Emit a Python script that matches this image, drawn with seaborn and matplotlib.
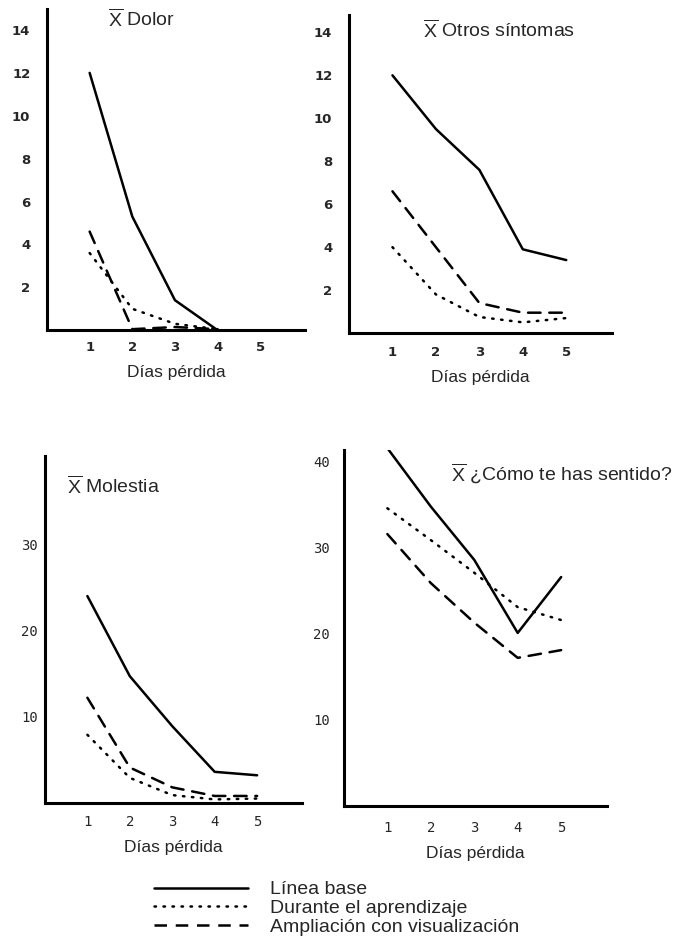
import numpy as np
import pandas as pd
import seaborn as sns
import matplotlib.pyplot as plt
from matplotlib.lines import Line2D

sns.set_style('white')
plt.rcParams['font.family'] = ['Liberation Sans', 'DejaVu Sans']
plt.rcParams['mathtext.fontset'] = 'custom'
plt.rcParams['mathtext.rm'] = 'Liberation Sans'

# datos
dias = [1, 2, 3, 4, 5]
fases = ['Línea base', 'Durante el aprendizaje', 'Ampliación con visualización']

dolor_base = [12.0, 5.3, 1.4, 0.0]
dolor_apr = [3.6, 1.0, 0.3, 0.05]
dolor_amp = [4.6, 0.05, 0.15, 0.05]

otros_base = [12.0, 9.5, 7.6, 3.9, 3.4]
otros_apr = [4.0, 1.8, 0.75, 0.5, 0.7]
otros_amp = [6.6, 4.0, 1.4, 0.95, 0.95]

molestia_base = [24.0, 14.7, 8.9, 3.6, 3.2]
molestia_apr = [7.9, 2.9, 0.9, 0.4, 0.5]
molestia_amp = [12.2, 4.1, 1.8, 0.8, 0.8]

sentido_base = [41.6, 34.8, 28.6, 20.1, 26.6]
sentido_apr = [34.6, 30.9, 27.1, 23.1, 21.6]
sentido_amp = [31.6, 25.9, 21.3, 17.2, 18.1]


def long_df(base, apr, amp):
    rows = []
    for fase, vals in zip(fases, [base, apr, amp]):
        for d, v in zip(dias[:len(vals)], vals):
            rows.append({'dia': d, 'valor': v, 'fase': fase})
    return pd.DataFrame(rows)


dashes = {fases[0]: '', fases[1]: (0.6, 3.0), fases[2]: (5, 3.5)}
xbar = r'$\overline{\mathrm{X}}$ '

fig = plt.figure(figsize=(6.81, 9.49), dpi=100)

paneles = [
    # (rect, data, ylim, yticks, titulo, pos titulo, fuente ticks, pad y, pad x)
    ([0.069, 0.652, 0.379, 0.339], long_df(dolor_base, dolor_apr, dolor_amp),
     15.0, [2, 4, 6, 8, 10, 12, 14], 'Dolor', (0.236, 0.966), 'bold', 9, 5),
    ([0.5125, 0.649, 0.386, 0.335], long_df(otros_base, otros_apr, otros_amp),
     14.8, [2, 4, 6, 8, 10, 12, 14], 'Otros síntomas', (0.281, 0.953), 'bold', 9, 6),
    ([0.066, 0.154, 0.377, 0.365], long_df(molestia_base, molestia_apr, molestia_amp),
     40.2, [10, 20, 30], 'Molestia', (0.086, 0.913), 'normal', 2, 6),
    ([0.505, 0.151, 0.386, 0.375], long_df(sentido_base, sentido_apr, sentido_amp),
     41.4, [10, 20, 30, 40], '¿Cómo te has sentido?', (0.407, 0.933), 'normal', 7, 8),
]

for rect, df, ytop, yticks, titulo, tpos, peso, ypad, xpad in paneles:
    ax = fig.add_axes(rect)
    sns.lineplot(data=df, x='dia', y='valor', style='fase', style_order=fases,
                 dashes=dashes, color='black', linewidth=1.8, legend=False, ax=ax)
    for ln in ax.lines:
        ln.set_dash_capstyle('round')
    ax.set_xlim(0, 6.05)
    ax.set_ylim(0, ytop)
    ax.set_xticks(dias)
    ax.set_yticks(yticks)
    fam = ['DejaVu Sans'] if peso == 'bold' else ['DejaVu Sans Mono']
    for lab in ax.get_xticklabels() + ax.get_yticklabels():
        lab.set_fontfamily(fam)
        lab.set_fontweight(peso)
        lab.set_fontsize(9.5 if peso == 'bold' else 10)
    ax.tick_params(axis='both', length=3, width=1.2, color='black')
    ax.tick_params(axis='x', pad=xpad)
    ax.tick_params(axis='y', pad=ypad)
    sns.despine(ax=ax)
    for s in ['left', 'bottom']:
        ax.spines[s].set_linewidth(2.2)
        ax.spines[s].set_color('black')
    ax.set_xlabel('Días pérdida', fontsize=12.5, labelpad=8)
    ax.set_ylabel('')
    ax.text(tpos[0], tpos[1], xbar + titulo, transform=ax.transAxes, fontsize=14,
            va='center', ha='left')

handles = [Line2D([], [], color='black', linewidth=1.8, linestyle='-'),
           Line2D([], [], color='black', linewidth=1.8, linestyle=(0, (0.6, 3.0)),
                  dash_capstyle='round'),
           Line2D([], [], color='black', linewidth=1.8, linestyle=(0, (5, 3.5)))]
fig.legend(handles, fases, loc='upper left', bbox_to_anchor=(0.215, 0.080),
           frameon=False, fontsize=14, handlelength=4.8, handletextpad=1.15,
           labelspacing=0.05, borderaxespad=0)

fig.savefig('out.png', dpi=100, facecolor='white')
